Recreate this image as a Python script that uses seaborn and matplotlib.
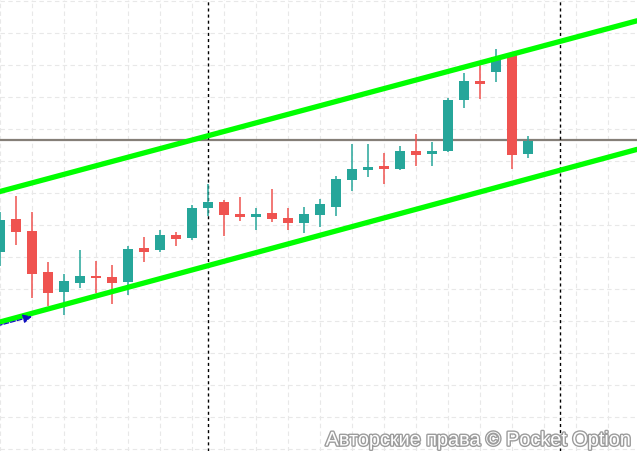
import matplotlib
matplotlib.use("Agg")
import numpy as np
import pandas as pd
import matplotlib.pyplot as plt
import matplotlib.patheffects as pe
import seaborn as sns

# Candle data (price units), one candle per index
opens = [199, 232, 220, 179, 159, 168, 175, 174, 169, 203, 201, 216, 213, 243, 249, 237, 234,
         238, 233, 228, 236, 244, 271, 281, 285, 282, 300, 297, 300, 351, 370, 379, 396, 297]
highs = [239, 255, 239, 189, 177, 201, 190, 186, 205, 214, 221, 219, 246, 267, 251, 254, 243,
         262, 243, 244, 252, 275, 307, 307, 298, 305, 317, 309, 353, 378, 390, 402, 397, 315]
lows = [185, 206, 153, 145, 136, 163, 158, 147, 156, 189, 199, 205, 211, 235, 215, 230, 221,
        229, 221, 218, 224, 235, 260, 274, 267, 281, 285, 285, 299, 343, 352, 369, 282, 293]
closes = [231, 219, 177, 158, 170, 175, 173, 168, 202, 199, 216, 212, 243, 249, 236, 234, 237,
          232, 228, 237, 247, 272, 282, 284, 282, 300, 296, 300, 351, 370, 367, 394, 296, 310]

# Channel lines (start / end) and levels
upper_x = [0, 39.81]
upper_y = [259.5, 430.2]
lower_x = [0, 39.81]
lower_y = [129.0, 301.6]
level_price = 311
marker_times = [13, 35]
arrow_x = [-1.0, 2.0]
arrow_y = [121.5, 134.5]

df = pd.DataFrame({"open": opens, "high": highs, "low": lows, "close": closes})
df["t"] = np.arange(len(df))
df["up"] = df["close"] >= df["open"]

sns.set_style("white")
plt.rcParams["font.family"] = ["Liberation Sans", "DejaVu Sans"]

fig = plt.figure(figsize=(6.37, 4.52), dpi=100, facecolor="white")
ax = fig.add_axes([0, 0, 1, 1])

# Grid
ax.set_xlim(0, 637 / 16)
ax.set_ylim(0, 452)
ax.set_xticks(np.arange(0, 40, 2))
ax.set_yticks(np.arange(2, 452, 32))
ax.grid(True, color="#e8e8e8", linestyle=(0, (4, 3)), linewidth=0.8)
ax.tick_params(length=0, labelbottom=False, labelleft=False)
for s in ax.spines.values():
    s.set_visible(False)
ax.set_axisbelow(True)

# Candles
teal = "#26a69a"
red = "#ef5350"
colors = [teal if u else red for u in df["up"]]
ax.vlines(df["t"], df["low"], df["high"], colors=colors, linewidth=1.1, zorder=3)
bottoms = np.minimum(df["open"], df["close"])
heights = np.maximum(np.abs(df["close"] - df["open"]), 2.5)
ax.bar(df["t"], heights, bottom=bottoms, width=0.68, color=colors, linewidth=0, zorder=4)

# Level and time markers
ax.axhline(level_price, color="#857f78", linewidth=1.6, zorder=2)
for t in marker_times:
    ax.axvline(t, color="black", linewidth=1.0, linestyle=(0, (2.2, 2.2)), zorder=2)

# Channel
chan = pd.DataFrame({"x": upper_x + lower_x, "y": upper_y + lower_y,
                     "line": ["upper", "upper", "lower", "lower"]})
sns.lineplot(data=chan, x="x", y="y", units="line", estimator=None, color="#00ff00",
             linewidth=3.8, ax=ax, zorder=5, legend=False)
ax.set_xlabel("")
ax.set_ylabel("")

# Blue arrow
ax.annotate("", xy=(arrow_x[1], arrow_y[1]), xytext=(arrow_x[0], arrow_y[0]),
            arrowprops=dict(arrowstyle="-|>", color="#1010c0", lw=0.9,
                            linestyle=(0, (4, 1.5)), mutation_scale=13,
                            shrinkA=0, shrinkB=0),
            zorder=6)

# Watermark
fig.text(632 / 637, 1 - 441 / 452, "Авторские права © Pocket Option",
         ha="right", va="center", fontsize=14.3, color="white",
         path_effects=[pe.withStroke(linewidth=2.0, foreground="#9c9c9c")])

plt.savefig("out.png", dpi=100, facecolor="white")
plt.close()
